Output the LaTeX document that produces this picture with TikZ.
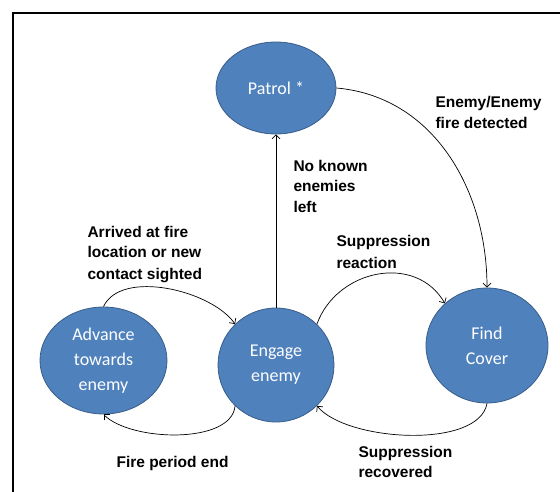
\documentclass[tikz,border=0pt]{standalone}
\usepackage{fontspec}
\setmainfont{Liberation Sans}
\newfontfamily\calibri{Carlito}
\usetikzlibrary{shapes.geometric,arrows.meta,positioning}
\definecolor{stateblue}{HTML}{4F81BD}
\definecolor{stateline}{HTML}{385D8A}

\begin{document}
\begin{tikzpicture}[x=1pt,y=1pt,
	state/.style = {draw=stateline, fill=stateblue, ellipse, line width=0.8pt, inner sep=0pt, text=white, align=center, font=\calibri\fontsize{18}{25}\selectfont},
	trans/.style = {-{Straight Barb[length=4pt,width=8pt]}, line width=0.7pt},
	lbl/.style = {anchor=base west, align=left, font=\bfseries\fontsize{15.5}{21}\selectfont}]
	\useasboundingbox (0,0) rectangle (560,-492);
	\draw[line width=2pt] (13,-492) -- (13,-13) -- (560,-13);
	% states
	\node[state, minimum width=120pt, minimum height=92pt] (patrol) at (276,-88) {Patrol *};
	\node[state, minimum width=127pt, minimum height=107pt] (advance) at (103.5,-360.5) {Advance\\towards\\enemy};
	\node[state, minimum width=116pt, minimum height=114pt] (engage) at (276,-365) {Engage\\enemy};
	\node[state, minimum width=122pt, minimum height=115pt] (cover) at (487,-345.5) {Find\\Cover};
	% transitions
	\draw[trans] (patrol.east) to[out=-5, in=90] (cover.north);
	\draw[trans] (engage.north) -- (patrol.south);
	\draw[trans] (advance.north) to[out=65, in=125, looseness=0.8] (engage.135);
	\draw[trans] (engage.-135) to[out=-95, in=-45, looseness=0.75] (advance.south);
	\draw[trans] (engage.45) to[out=70, in=120, looseness=1.15] (cover.135);
	\draw[trans] (cover.south) to[out=-100, in=-50, looseness=0.7] (engage.-45);
	% labels (base = last line)
	\node[lbl] (fired) at (432,-129) {Enemy/Enemy\\fire detected};
	\node[lbl] (noleft) at (290,-213) {No known\\enemies\\left};
	\node[lbl] (react) at (333,-268) {Suppression\\reaction};
	\node[lbl] (arrived) at (84,-279) {Arrived at fire\\location or new\\contact sighted};
	\node[lbl] (fireend) at (113,-467) {Fire period end};
	\node[lbl, font=\bfseries\fontsize{15.5}{19.5}\selectfont] (recov) at (355,-477) {Suppression\\recovered};
\end{tikzpicture}
\end{document}
